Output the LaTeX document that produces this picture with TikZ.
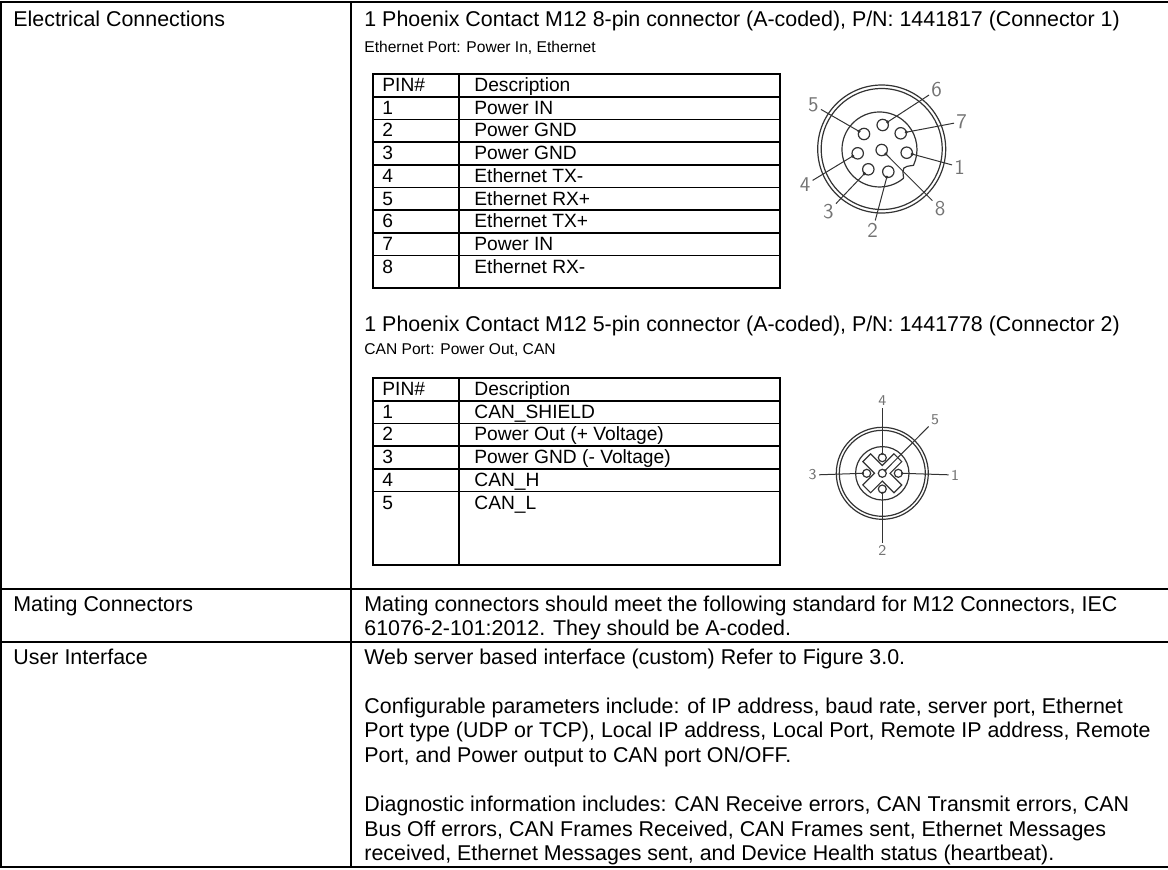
\documentclass[tikz,border=0pt]{standalone}
\usepackage{fontspec}
\setmainfont{Liberation Sans}
\usepackage{tikz}
\usetikzlibrary{calc,positioning}
\definecolor{cadline}{gray}{0.2}
\definecolor{cadtext}{gray}{0.45}
\tikzset{
  rule/.style={line width=0.85pt},
  body/.style={anchor=base west, inner sep=0pt, font=\fontsize{10.7}{12}\selectfont},
  subline/.style={anchor=base west, inner sep=0pt, font=\fontsize{7.8}{9}\selectfont},
  cell/.style={anchor=base west, inner sep=0pt, font=\fontsize{9.6}{11}\selectfont},
  ring/.style={cadline, line width=0.6pt},
  lead/.style={cadline, line width=0.5pt},
  pinno/.style={inner sep=1pt, text=cadtext, font=\sffamily\fontsize{10.5}{12}\selectfont},
  pinsm/.style={inner sep=1pt, text=cadtext, font=\sffamily\fontsize{7.5}{9}\selectfont},
}
\begin{document}
\begin{tikzpicture}[x=0.5pt, y=-0.5pt]
\useasboundingbox (0,0) rectangle (1168,869);
\draw[rule] (1168,2) -- (1,2) -- (1,867) -- (1168,867);
\draw[rule] (351,2) -- (351,867);
\draw[rule] (1,589) -- (1168,589);
\draw[rule] (1,642) -- (1168,642);
\node[body] (elec) at (13,26) {Electrical Connections};
\node[body] (mating) at (13,611) {Mating Connectors};
\node[body] (ui) at (13,664) {User Interface};
\node[body] (conA) at (364,26) {1 Phoenix Contact M12 8-pin connector (A-coded), P/N: 1441817 (Connector 1)};
\node[subline] (portA) at (364,52) {Ethernet Port: Power In, Ethernet};
\begin{scope}[shift={(0,74)}]
\draw[rule] (373,0) rectangle (780,214);
\draw[rule] (459,0) -- (459,214);
\foreach \k in {1,...,8} \draw[rule] (373,22.7*\k) -- (780,22.7*\k);
\node[cell] (pinheadA) at (382,17.5) {PIN\#};
\node[cell] (descheadA) at (474,17.5) {Description};
\foreach \pn/\desc in {1/Power IN, 2/Power GND, 3/Power GND, 4/Ethernet TX-, 5/Ethernet RX+, 6/Ethernet TX+, 7/Power IN, 8/Ethernet RX-} {
  \node[cell] (pinA\pn) at (382,17.5+22.7*\pn) {\pn};
  \node[cell] (descA\pn) at (474,17.5+22.7*\pn) {\desc};
}
\end{scope}
\begin{scope}[shift={(881.7,149)}]
\draw[ring] (0,0) circle[radius=64];
\draw[ring] (0,0) circle[radius=60.5];
\draw[ring] (21.9,29.2) arc[start angle=50, end angle=385, radius=37.5] .. controls (20.5,17.9) .. (21.9,29.2);
\foreach \n/\px/\py/\dx/\dy/\lx/\ly in {1/25/3.7/30.5/5.1/78/18, 2/6.6/22.7/5.1/28.2/-9/81, 3/-13.4/20.3/-17.2/24.6/-53.4/62.7, 4/-24/4.3/-29/7.1/-76.7/36, 5/-17.7/-15/-22.7/-17.7/-68.4/-44, 6/1/-24/5.9/-27/55/-59, 7/19/-15.7/24.6/-16.8/80/-27.3, 8/0/1/4.1/5/58.3/59.3} {
  \draw[ring] (\px,\py) circle[radius=5.7];
  \coordinate (dotA\n) at (\dx,\dy);
  \fill[cadline] (dotA\n) circle[radius=1.7];
  \node[pinno] (numA\n) at (\lx,\ly) {\n};
  \draw[lead] (dotA\n) -- (numA\n);
}
\end{scope}
\node[body] (conB) at (364,331) {1 Phoenix Contact M12 5-pin connector (A-coded), P/N: 1441778 (Connector 2)};
\node[subline] (portB) at (364,354) {CAN Port: Power Out, CAN};
\begin{scope}[shift={(0,378)}]
\draw[rule] (373,0) rectangle (780,187);
\draw[rule] (459,0) -- (459,187);
\foreach \k in {1,...,5} \draw[rule] (373,22.7*\k) -- (780,22.7*\k);
\node[cell] (pinheadB) at (382,17.5) {PIN\#};
\node[cell] (descheadB) at (474,17.5) {Description};
\foreach \pn/\desc in {1/CAN\_SHIELD, 2/Power Out (+ Voltage), 3/Power GND (- Voltage), 4/CAN\_H, 5/CAN\_L} {
  \node[cell] (pinB\pn) at (382,17.5+22.7*\pn) {\pn};
  \node[cell] (descB\pn) at (474,17.5+22.7*\pn) {\desc};
}
\end{scope}
\begin{scope}[shift={(882.3,473.3)}]
\draw[ring] (0,0) circle[radius=46];
\draw[ring] (0,0) circle[radius=43];
\draw[ring] (0,0) circle[radius=26.7];
\draw[ring, rotate=45] (22,5.5) -- (5.5,5.5) -- (5.5,22) -- (-5.5,22) -- (-5.5,5.5) -- (-22,5.5) -- (-22,-5.5) -- (-5.5,-5.5) -- (-5.5,-22) -- (5.5,-22) -- (5.5,-5.5) -- (22,-5.5) -- cycle;
\foreach \n/\px/\py/\dx/\dy/\lx/\ly in {1/16/0/20/0/72.7/1.7, 2/0/15.7/0/19.7/0/77, 3/-15.6/0/-19.6/0/-69.6/1.7, 4/0/-15.6/0/-19.6/0/-73, 5/0/0/2.8/-2.8/52.7/-53.3} {
  \draw[ring] (\px,\py) circle[radius=4];
  \coordinate (dotB\n) at (\dx,\dy);
  \fill[cadline] (dotB\n) circle[radius=1.4];
  \node[pinsm] (numB\n) at (\lx,\ly) {\n};
  \draw[lead] (dotB\n) -- (numB\n);
}
\end{scope}
\node[body] (mateA) at (364,611) {Mating connectors should meet the following standard for M12 Connectors, IEC};
\node[body] (mateB) at (364,635.6) {61076-2-101:2012. They should be A-coded.};
\node[body] (web) at (364,664) {Web server based interface (custom) Refer to Figure 3.0.};
\node[body] (cfgA) at (364,713.2) {Configurable parameters include: of IP address, baud rate, server port, Ethernet};
\node[body] (cfgB) at (364,737.8) {Port type (UDP or TCP), Local IP address, Local Port, Remote IP address, Remote};
\node[body] (cfgC) at (364,762.4) {Port, and Power output to CAN port ON/OFF.};
\node[body] (diagA) at (364,811.6) {Diagnostic information includes: CAN Receive errors, CAN Transmit errors, CAN};
\node[body] (diagB) at (364,836.2) {Bus Off errors, CAN Frames Received, CAN Frames sent, Ethernet Messages};
\node[body] (diagC) at (364,860.8) {received, Ethernet Messages sent, and Device Health status (heartbeat).};
\end{tikzpicture}
\end{document}
